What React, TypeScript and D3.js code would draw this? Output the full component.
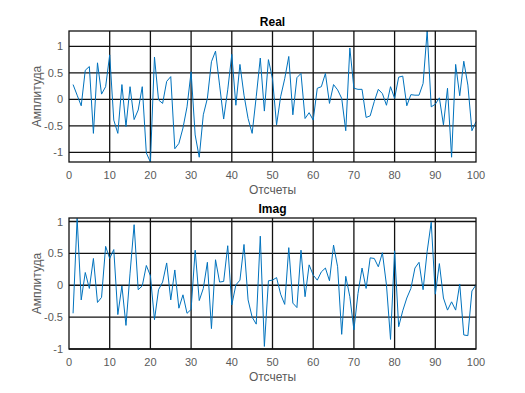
import React, { useEffect, useRef } from 'react';
import * as d3 from 'd3';

// samples 1..100
const realValues = [
  0.28, 0.08, -0.12, 0.55, 0.62, -0.64, 0.69, 0.1, 0.24, 0.84,
  -0.39, -0.64, 0.28, -0.51, 0.24, -0.38, -0.2, 0.24, -1.01, -1.18,
  0.8, -0.01, -0.075, 0.34, 0.43, -0.93, -0.83, -0.54, -0.14, 0.52,
  -0.67, -1.09, -0.29, 0.02, 0.71, 0.91, 0.27, -0.37, 0.18, 0.85,
  -0.11, 0.66, 0.08, -0.36, -0.64, 0.05, 0.78, -0.22, 0.75, 0.39,
  -0.48, 0.05, 0.39, 0.81, -0.29, 0.41, 0.49, -0.36, -0.25, -0.39,
  0.21, 0.24, 0.49, -0.075, 0.28, 0.18, 0.02, -0.59, 0.97, 0.21,
  0.19, 0.19, -0.34, -0.31, -0.04, 0.19, 0.11, -0.11, 0.24, 0.02,
  0.42, 0.44, -0.12, 0.09, 0.08, 0.08, 0.3, 1.29, -0.14, -0.09,
  0.03, -0.48, 0.21, -1.09, 0.66, 0.07, 0.72, 0.27, -0.59, -0.42,
];

const imagValues = [
  -0.44, 1.05, -0.23, 0.2, -0.05, 0.42, -0.27, -0.19, 0.61, 0.42,
  0.56, -0.46, -0.01, -0.63, 0.19, 0.95, -0.07, -0.01, 0.31, 0.15,
  -0.54, -0.07, 0.05, 0.35, -0.23, 0.24, -0.36, -0.15, -0.44, -0.38,
  0.55, -0.24, -0.05, 0.36, -0.68, 0.4, 0.05, 0.06, 0.62, -0.31,
  0.005, 0.08, 0.64, -0.23, -0.5, -0.61, 0.77, -0.96, 0.07, 0.08,
  0.12, -0.14, -0.3, 0.59, -0.28, -0.35, 0.55, -0.18, 0.32, 0.16,
  0.08, 0.21, 0.27, 0.07, 0.63, 0.29, -0.77, 0.14, -0.18, -0.7,
  -0.13, 0.27, -0.05, 0.43, 0.42, 0.29, 0.51, 0.005, -0.85, 0.54,
  -0.65, -0.4, -0.2, -0.05, 0.27, 0.36, -0.07, 0.53, 0.99, -0.14,
  0.34, -0.2, -0.39, -0.26, -0.39, 0.02, -0.78, -0.79, -0.09, 0.005,
];

const xTicks = [0, 10, 20, 30, 40, 50, 60, 70, 80, 90, 100];
const yTicks = [-1, -0.5, 0, 0.5, 1];

const panels = [
  { title: 'Real', values: realValues, yMin: -1.18, yMax: 1.29, top: 31, bottom: 162 },
  { title: 'Imag', values: imagValues, yMin: -1, yMax: 1.055, top: 218, bottom: 349 },
];

const FONT = '"Liberation Sans", Arial, sans-serif';

export default function App() {
  const svgRef = useRef<SVGSVGElement | null>(null);

  useEffect(() => {
    const svg = d3.select(svgRef.current);
    svg.selectAll('*').remove();
    svg.append('rect').attr('width', 525).attr('height', 393).attr('fill', '#fff');

    const left = 69;
    const right = 476;

    panels.forEach(p => {
      const x = d3.scaleLinear().domain([0, 100]).range([left, right]);
      const y = d3.scaleLinear().domain([p.yMin, p.yMax]).range([p.bottom, p.top]);
      const g = svg.append('g');

      // grid
      g.selectAll('.gx')
        .data(xTicks.slice(1, -1))
        .enter().append('line')
        .attr('x1', d => x(d)).attr('x2', d => x(d))
        .attr('y1', p.top).attr('y2', p.bottom)
        .attr('stroke', '#111').attr('stroke-width', 1.3);
      g.selectAll('.gy')
        .data(yTicks)
        .enter().append('line')
        .attr('x1', left).attr('x2', right)
        .attr('y1', d => y(d)).attr('y2', d => y(d))
        .attr('stroke', '#111').attr('stroke-width', 1.3);

      // data line
      const line = d3.line<number>()
        .x((_, i) => x(i + 1))
        .y(d => y(d));
      g.append('path')
        .datum(p.values)
        .attr('d', line)
        .attr('fill', 'none')
        .attr('stroke', '#0072BD')
        .attr('stroke-width', 1)
        .attr('stroke-linejoin', 'round');

      // box
      g.append('rect')
        .attr('x', left).attr('y', p.top)
        .attr('width', right - left).attr('height', p.bottom - p.top)
        .attr('fill', 'none').attr('stroke', '#111').attr('stroke-width', 1.3);

      // tick labels
      g.selectAll('.tx')
        .data(xTicks)
        .enter().append('text')
        .attr('x', d => x(d)).attr('y', p.bottom + 17)
        .attr('text-anchor', 'middle')
        .attr('font-family', FONT).attr('font-size', 11).attr('fill', '#5a5a5a')
        .text(d => String(d));
      g.selectAll('.ty')
        .data(yTicks)
        .enter().append('text')
        .attr('x', left - 6).attr('y', d => y(d) + 4)
        .attr('text-anchor', 'end')
        .attr('font-family', FONT).attr('font-size', 11).attr('fill', '#5a5a5a')
        .text(d => String(d));

      // labels
      g.append('text')
        .attr('x', (left + right) / 2).attr('y', p.top - 5)
        .attr('text-anchor', 'middle')
        .attr('font-family', FONT).attr('font-size', 12).attr('font-weight', 'bold')
        .attr('fill', '#000')
        .text(p.title);
      g.append('text')
        .attr('x', (left + right) / 2).attr('y', p.bottom + 32)
        .attr('text-anchor', 'middle')
        .attr('font-family', FONT).attr('font-size', 12).attr('fill', '#5a5a5a')
        .text('Отсчеты');
      g.append('text')
        .attr('transform', `translate(41,${(p.top + p.bottom) / 2}) rotate(-90)`)
        .attr('text-anchor', 'middle')
        .attr('font-family', FONT).attr('font-size', 12).attr('fill', '#5a5a5a')
        .text('Амплитуда');
    });
  }, []);

  return (
    <svg ref={svgRef} width={525} height={393}
      style={{ position: 'absolute', left: 0, top: 0, display: 'block' }} />
  );
}
